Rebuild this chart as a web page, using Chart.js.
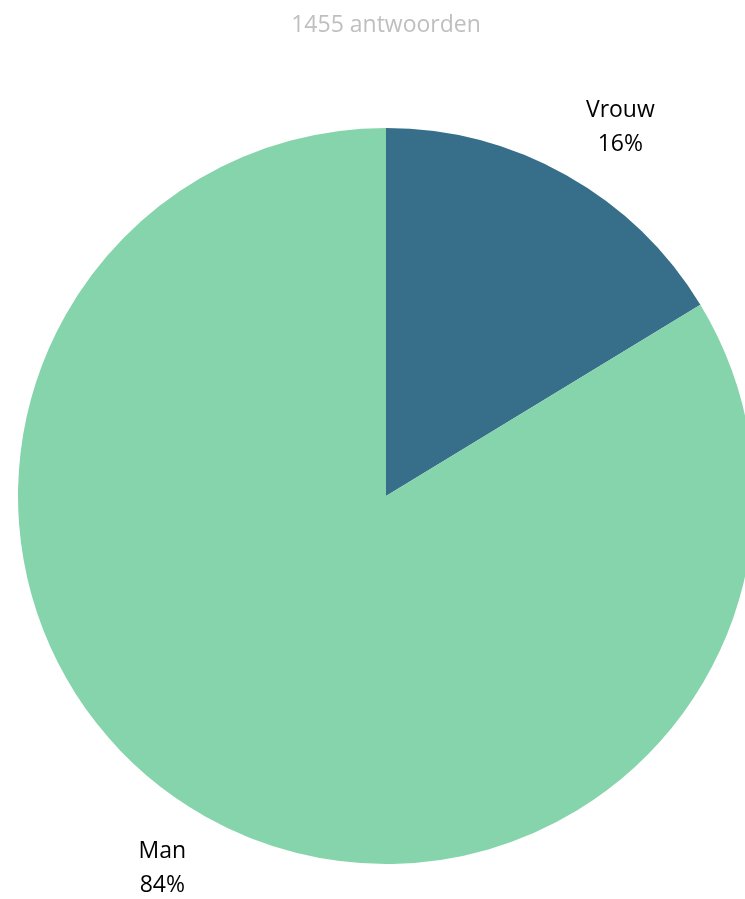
<!DOCTYPE html>
<html>
<head>
<meta charset="utf-8">
<script src="https://cdn.jsdelivr.net/npm/chart.js@4"></script>
<style>
  html, body { margin: 0; padding: 0; background: #fff; overflow: hidden; }
  #wrap { width: 772px; height: 899px; }
</style>
</head>
<body>
<div id="wrap"><canvas id="myChart" width="772" height="899"></canvas></div>
<script>
const titleText = '1455 antwoorden';
const labels = ['Vrouw', 'Man'];
const shares = [16.3, 83.7];
const colors = ['#376E8A', '#86D4AB'];

// labels drawn just outside each slice, like the Excel "best fit" labels
const outsideLabels = {
    id: 'outsideLabels',
    afterDraw(chart) {
        const c = chart.ctx;
        const arcs = chart.getDatasetMeta(0).data;
        c.save();
        c.font = '23px "Open Sans"';
        c.fillStyle = '#000';
        c.textBaseline = 'middle';
        arcs.forEach((arc, i) => {
            const mid = (arc.startAngle + arc.endAngle) / 2;
            const r = arc.outerRadius + 40;
            const ax = arc.x + Math.cos(mid) * r;
            const ay = arc.y + Math.sin(mid) * r;
            const pct = Math.round(shares[i]) + '%';
            const lines = [labels[i], pct];
            const w = Math.max(...lines.map(t => c.measureText(t).width));
            const left = ax >= arc.x ? ax : ax - w;
            const cy = ay + (ay < arc.y ? -13 : 17);
            c.textAlign = 'center';
            c.fillText(lines[0], left + w / 2, cy - 17);
            c.fillText(lines[1], left + w / 2, cy + 17);
        });
        c.font = '23px "Open Sans"';
        c.fillStyle = '#BFBFBF';
        c.textAlign = 'center';
        c.fillText(titleText, 386, 25);
        c.restore();
    }
};

const ctx = document.getElementById('myChart').getContext('2d');
const myChart = new Chart(ctx, {
    type: 'pie',
    data: {
        labels: labels,
        datasets: [{
            data: shares,
            backgroundColor: colors,
            borderWidth: 0
        }]
    },
    options: {
        responsive: false,
        animation: false,
        devicePixelRatio: 1,
        layout: { padding: { top: 128, bottom: 35, left: 18, right: 18 } },
        plugins: {
            legend: { display: false },
            tooltip: { enabled: false }
        }
    },
    plugins: [outsideLabels]
});
</script>
</body>
</html>
